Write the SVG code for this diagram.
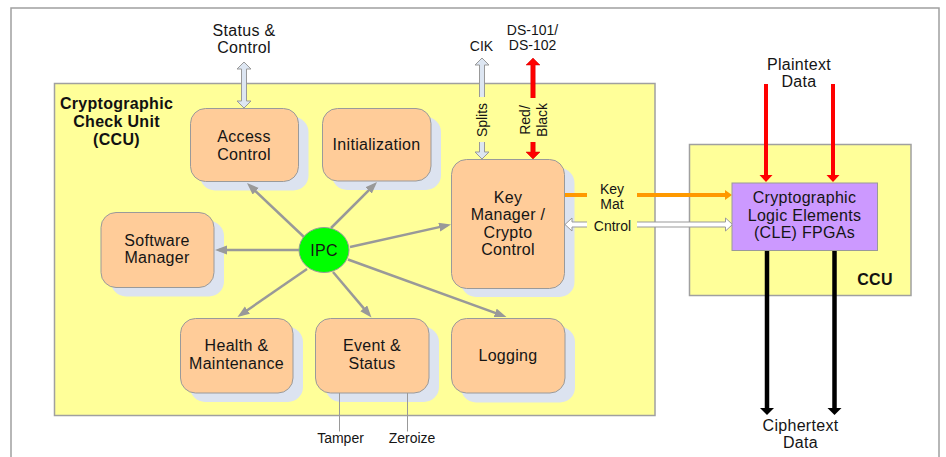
<svg xmlns="http://www.w3.org/2000/svg" width="946" height="457" viewBox="0 0 946 457">
<defs>
<style>
.t{font-family:"Liberation Sans",Arial,sans-serif;font-size:16px;letter-spacing:0.3px;fill:#151515;text-anchor:middle}
.s{font-family:"Liberation Sans",Arial,sans-serif;font-size:14px;fill:#151515;text-anchor:middle}
.b{font-family:"Liberation Sans",Arial,sans-serif;font-size:16px;font-weight:bold;letter-spacing:0.3px;fill:#111;text-anchor:middle}
.node{fill:#FFCC99;stroke:#9a9a9a;stroke-width:1}
.shadow{fill:#DCE3F0}
.ipc{fill:none;stroke:#999;stroke-width:2.5}
.hollow{fill:#DDE6F2;stroke:#999;stroke-width:1}
.hollowW{fill:#fff;stroke:#999;stroke-width:1}
.thin{stroke:#999;stroke-width:1;fill:none}
</style>
<marker id="ah" markerUnits="userSpaceOnUse" markerWidth="14" markerHeight="12" refX="8" refY="4.5" orient="auto">
<path d="M0,0 L12,4.5 L0,9 Z" fill="#999"/>
</marker>
</defs>
<rect width="946" height="457" fill="#fff"/>
<polyline points="11,457 11,8 939,8 939,457" fill="none" stroke="#a0a0a0" stroke-width="1.5"/>

<g id="ccu-main">
<rect x="54.5" y="83.5" width="600.5" height="332" fill="#FFFF99" stroke="#a0a0a0" stroke-width="1.5"/>
<text class="b" x="116.5" y="109">Cryptographic</text>
<text class="b" x="116.5" y="127">Check Unit</text>
<text class="b" x="116.5" y="145">(CCU)</text>
</g>

<g id="ccu-right">
<rect x="689.5" y="144.5" width="221.5" height="151" fill="#FFFF99" stroke="#a0a0a0" stroke-width="1.5"/>
<text class="b" x="875" y="285">CCU</text>
</g>

<g id="access-control">
<rect class="shadow" x="200" y="117" width="108.5" height="73.5" rx="15"/>
<rect class="node" x="190.5" y="108.5" width="108" height="73" rx="15"/>
<text class="t" x="244" y="141.5">Access</text>
<text class="t" x="244" y="159.5">Control</text>
</g>

<g id="initialization">
<rect class="shadow" x="332" y="117" width="109" height="73" rx="15"/>
<rect class="node" x="322.5" y="108.5" width="108.5" height="72.5" rx="15"/>
<text class="t" x="376.5" y="150">Initialization</text>
</g>

<g id="software-manager">
<rect class="shadow" x="111" y="221" width="113" height="75.5" rx="15"/>
<rect class="node" x="101" y="212.5" width="113" height="75" rx="15"/>
<text class="t" x="157" y="246">Software</text>
<text class="t" x="157" y="263">Manager</text>
</g>

<g id="key-manager">
<rect class="shadow" x="461" y="168" width="113.5" height="129" rx="15"/>
<rect class="node" x="451.5" y="159.5" width="113" height="129" rx="15"/>
<text class="t" x="508" y="202.5">Key</text>
<text class="t" x="508" y="220">Manager /</text>
<text class="t" x="508" y="237.5">Crypto</text>
<text class="t" x="508" y="255">Control</text>
</g>

<g id="health-maintenance">
<rect class="shadow" x="190" y="327" width="113" height="75" rx="15"/>
<rect class="node" x="180.5" y="318.5" width="112.5" height="74.5" rx="15"/>
<text class="t" x="236.5" y="350.5">Health &amp;</text>
<text class="t" x="236.5" y="368.5">Maintenance</text>
</g>

<g id="event-status">
<rect class="shadow" x="325.5" y="327" width="113.5" height="75" rx="15"/>
<rect class="node" x="315.5" y="318.5" width="113.5" height="74.5" rx="15"/>
<text class="t" x="372" y="350.5">Event &amp;</text>
<text class="t" x="372" y="368.5">Status</text>
</g>

<g id="logging">
<rect class="shadow" x="461" y="327" width="114" height="75.5" rx="15"/>
<rect class="node" x="451.5" y="318.5" width="113.5" height="74.5" rx="15"/>
<text class="t" x="508" y="360.5">Logging</text>
</g>

<g id="connectors">
<line class="ipc" x1="304" y1="237" x2="249.9" y2="185.8" marker-end="url(#ah)"/>
<line class="ipc" x1="331" y1="228" x2="374.2" y2="184.8" marker-end="url(#ah)"/>
<line class="ipc" x1="299" y1="250" x2="219" y2="250" marker-end="url(#ah)"/>
<line class="ipc" x1="350" y1="247" x2="447.1" y2="225.4" marker-end="url(#ah)"/>
<line class="ipc" x1="307" y1="269" x2="240.8" y2="314.7" marker-end="url(#ah)"/>
<line class="ipc" x1="333" y1="272" x2="368.9" y2="314.4" marker-end="url(#ah)"/>
<line class="ipc" x1="348" y1="259.5" x2="502.7" y2="315.6" marker-end="url(#ah)"/>

<path class="hollow" d="M244,62 L251,69 L246.5,69 L246.5,101 L251,101 L244,108 L237,101 L241.5,101 L241.5,69 L237,69 Z"/>
<path class="hollow" d="M482,58 L489,65 L484.5,65 L484.5,152 L489,152 L482,159 L475,152 L479.5,152 L479.5,65 L475,65 Z"/>
<path d="M533,58 L540,65 L535.2,65 L535.2,152 L540,152 L533,159 L526,152 L530.8,152 L530.8,65 L526,65 Z" fill="#FF0000" stroke="#d00000" stroke-width="0.5"/>
<rect x="473" y="97" width="18" height="45" fill="#FFFF99"/>
<rect x="516" y="98" width="34" height="44" fill="#FFFF99"/>

<line x1="565" y1="195" x2="726" y2="195" stroke="#FF9900" stroke-width="4"/>
<path d="M732,195 L725,190 L725,200 Z" fill="#FF9900"/>
<path class="hollowW" d="M565,224.5 L572,218 L572,222 L725.5,222 L725.5,218 L732.5,224.5 L725.5,231 L725.5,227 L572,227 L572,231 Z"/>
<rect x="587" y="182" width="50" height="53" fill="#FFFF99"/>

<line x1="766" y1="84" x2="766" y2="176" stroke="#FF0000" stroke-width="4"/>
<path d="M766,182 L759.5,175 L772.5,175 Z" fill="#FF0000"/>
<line x1="833" y1="84" x2="833" y2="176" stroke="#FF0000" stroke-width="4"/>
<path d="M833,182 L826.5,175 L839.5,175 Z" fill="#FF0000"/>

<line x1="767" y1="251" x2="767" y2="409" stroke="#000" stroke-width="4.5"/>
<path d="M767,415 L760,408 L774,408 Z" fill="#000"/>
<line x1="834.5" y1="251" x2="834.5" y2="409" stroke="#000" stroke-width="4.5"/>
<path d="M834.5,415 L827.5,408 L841.5,408 Z" fill="#000"/>

<line class="thin" x1="339.5" y1="393" x2="339.5" y2="431.5"/>
<line class="thin" x1="407.5" y1="393" x2="407.5" y2="431.5"/>
</g>

<g id="ipc">
<ellipse cx="324" cy="250" rx="25" ry="22.5" fill="#00FF00" stroke="#999" stroke-width="1"/>
<text class="t" x="324" y="256">IPC</text>
</g>

<g id="cle">
<rect x="732" y="183" width="145.5" height="67.5" fill="#CC99FF" stroke="#999" stroke-width="1"/>
<text class="t" x="804.5" y="203">Cryptographic</text>
<text class="t" x="804.5" y="220.5">Logic Elements</text>
<text class="t" x="804.5" y="238">(CLE) FPGAs</text>
</g>

<g id="labels">
<text class="t" x="244" y="36">Status &amp;</text>
<text class="t" x="244" y="53">Control</text>
<text class="s" x="481.5" y="51">CIK</text>
<text class="s" x="532.5" y="35">DS-101/</text>
<text class="s" x="532.5" y="50">DS-102</text>
<text class="s" transform="translate(486.5,120) rotate(-90)">Splits</text>
<text class="s" transform="translate(530,120) rotate(-90)">Red/</text>
<text class="s" transform="translate(546.5,120) rotate(-90)">Black</text>
<text class="s" x="612" y="194">Key</text>
<text class="s" x="612" y="209">Mat</text>
<text class="s" x="612.5" y="231">Cntrol</text>
<text class="t" x="799" y="69.5">Plaintext</text>
<text class="t" x="799" y="87">Data</text>
<text class="t" x="800.5" y="431">Ciphertext</text>
<text class="t" x="800.5" y="448">Data</text>
<text class="s" x="340.5" y="443">Tamper</text>
<text class="s" x="412" y="443">Zeroize</text>
</g>
</svg>
